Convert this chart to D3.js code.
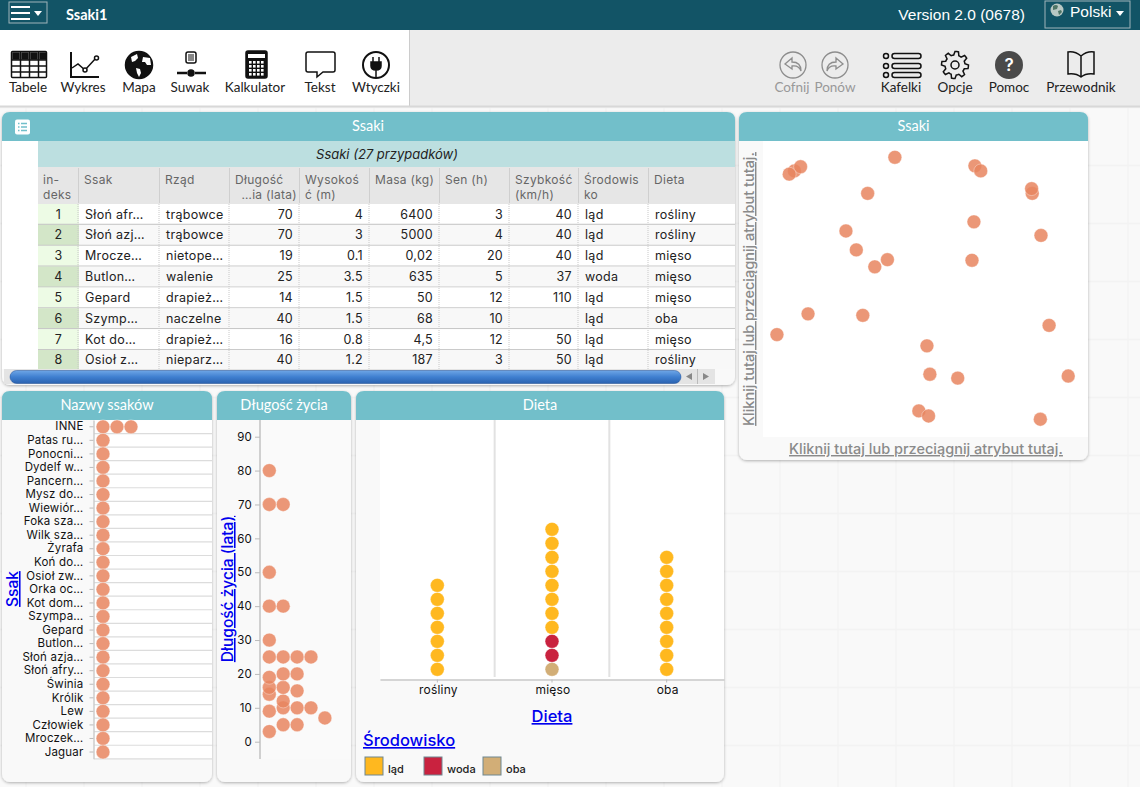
<!DOCTYPE html>
<html lang="pl">
<head>
  <meta charset="UTF-8" />
  <title>Ssaki1</title>
  <style>
    html, body { margin: 0; padding: 0; overflow: hidden; background: #f9f9f9; }
    svg { display: block; }
    text { font-family: Inter, "DejaVu Sans", sans-serif; }
    .lato, .lato text { font-family: Lato, sans-serif; }
    .link { fill: #0000ee; text-decoration: underline; font-weight: 500; }
    .hint { fill: #8a8a8a; text-decoration: underline; font-size: 14.5px; font-weight: 500; }
    .axis text { fill: #111; font-family: Inter, sans-serif; font-weight: 400; letter-spacing: 0.2px; }
    .cell { letter-spacing: 0.3px; }
  </style>
  <script src="https://d3js.org/d3.v7.min.js"></script>
</head>
<body>
  <svg id="page" width="1140" height="787"></svg>
  <script>
    // table
    const columnEdges = [38, 79, 160, 230, 300, 370, 440, 510, 579, 649, 735];
    const columnHeads = [["in-", "deks"], ["Ssak"], ["Rząd"], ["Długość", "…ia (lata)"], ["Wysokoś", "ć (m)"],
      ["Masa (kg)"], ["Sen (h)"], ["Szybkość", "(km/h)"], ["Środowis", "ko"], ["Dieta"]];
    const rightAligned = [3, 4, 5, 6, 7];
    const tableRows = [
      ["1", "Słoń afr…", "trąbowce", "70", "4", "6400", "3", "40", "ląd", "rośliny"],
      ["2", "Słoń azj…", "trąbowce", "70", "3", "5000", "4", "40", "ląd", "rośliny"],
      ["3", "Mrocze…", "nietope…", "19", "0.1", "0,02", "20", "40", "ląd", "mięso"],
      ["4", "Butlon…", "walenie", "25", "3.5", "635", "5", "37", "woda", "mięso"],
      ["5", "Gepard", "drapież…", "14", "1.5", "50", "12", "110", "ląd", "mięso"],
      ["6", "Szymp…", "naczelne", "40", "1.5", "68", "10", "", "ląd", "oba"],
      ["7", "Kot do…", "drapież…", "16", "0.8", "4,5", "12", "50", "ląd", "mięso"],
      ["8", "Osioł z…", "nieparz…", "40", "1.2", "187", "3", "50", "ląd", "rośliny"]
    ];

    // Nazwy ssaków
    const mammalNames = ["INNE", "Patas ru…", "Ponocni…", "Dydelf w…", "Pancern…", "Mysz do…", "Wiewiór…",
      "Foka sza…", "Wilk sza…", "Żyrafa", "Koń do…", "Osioł zw…", "Orka oc…", "Kot dom…", "Szympa…",
      "Gepard", "Butlon…", "Słoń azja…", "Słoń afry…", "Świnia", "Królik", "Lew", "Człowiek", "Mroczek…", "Jaguar"];
    const nameCounts = [3, 1, 1, 1, 1, 1, 1, 1, 1, 1, 1, 1, 1, 1, 1, 1, 1, 1, 1, 1, 1, 1, 1, 1, 1];

    // Długość życia, one list per stacking column
    const lifeTicks = [0, 10, 20, 30, 40, 50, 60, 70, 80, 90];
    const lifeStacks = [
      [3, 9, 14, 16, 19, 25, 30, 40, 50, 70, 80],
      [5, 10, 12, 16, 20, 25, 40, 70],
      [5, 10, 15, 20, 25],
      [10, 25],
      [7]
    ];

    // Dieta
    const dietLabels = ["rośliny", "mięso", "oba"];
    const habitatLabels = ["ląd", "woda", "oba"];
    const habitatColors = ["#ffb81f", "#c9223f", "#d2ae77"];
    const bothCounts = [0, 1, 0];
    const waterCounts = [0, 2, 0];
    const landCounts = [7, 8, 9];

    // Ssaki, empty plot: free scatter in percent of the plot area
    const looseX = [9.7, 11.6, 8.1, 40.7, 65.4, 67.2, 83.1, 82.9, 32.3, 65.1, 85.8, 25.6, 28.8, 38.4, 34.5, 64.5,
      13.9, 30.8, 88.3, 4.3, 50.6, 51.5, 60.1, 94.2, 48.1, 51.1, 85.6];
    const looseY = [89.9, 91.3, 88.8, 94.5, 91.6, 89.9, 82.3, 83.9, 82.3, 72.7, 68.1, 69.6, 63.2, 59.9, 57.5, 59.7,
      41.6, 41.1, 37.7, 34.6, 30.8, 21.2, 19.9, 20.6, 8.8, 7.1, 6.0];

    const dotColor = "#e8855f";
    const svg = d3.select("#page");

    function addText(parent, x, y, str, opts = {}) {
      return parent.append("text").attr("x", x).attr("y", y)
        .attr("text-anchor", opts.anchor || "start")
        .attr("font-size", opts.size || 12)
        .attr("font-weight", opts.weight || 400)
        .attr("fill", opts.fill || "#222")
        .attr("class", opts.cls || null)
        .text(str);
    }

    function drawDots(parent, data, cx, cy, fill, r = 6.9) {
      parent.append("g").selectAll("circle").data(data).join("circle")
        .attr("cx", cx).attr("cy", cy).attr("r", r)
        .attr("fill", fill)
        .attr("fill-opacity", 0.85)
        .attr("stroke", "#fff")
        .attr("stroke-opacity", 0.35)
        .attr("stroke-width", 1);
    }

    // background grid
    const grid = svg.append("g").attr("stroke", "#f3f3f3").attr("stroke-width", 1.5);
    grid.selectAll(".v").data(d3.range(20)).join("line")
      .attr("x1", i => 26 + i * 58).attr("x2", i => 26 + i * 58).attr("y1", 106).attr("y2", 787);
    grid.selectAll(".h").data(d3.range(12)).join("line")
      .attr("x1", 0).attr("x2", 1140).attr("y1", i => 107.5 + i * 58).attr("y2", i => 107.5 + i * 58);

    const defs = svg.append("defs");
    const shadow = defs.append("filter").attr("id", "shadow").attr("x", "-5%").attr("y", "-5%").attr("width", "110%").attr("height", "110%");
    shadow.append("feDropShadow").attr("dx", 0).attr("dy", 1).attr("stdDeviation", 1.5).attr("flood-color", "#000").attr("flood-opacity", 0.3);
    const barGrad = defs.append("linearGradient").attr("id", "bar").attr("x1", 0).attr("x2", 0).attr("y1", 0).attr("y2", 1);
    barGrad.append("stop").attr("offset", 0).attr("stop-color", "#6ea6e6");
    barGrad.append("stop").attr("offset", 0.5).attr("stop-color", "#3f7fd0");
    barGrad.append("stop").attr("offset", 1).attr("stop-color", "#2a62b0");

    // top bar
    svg.append("rect").attr("width", 1140).attr("height", 30).attr("fill", "#125466");
    svg.append("rect").attr("x", 9).attr("y", 2).attr("width", 38).attr("height", 21).attr("fill", "none").attr("stroke", "#9fb4ba");
    [7, 13, 19].forEach(y => svg.append("rect").attr("x", 11).attr("y", y - 1).attr("width", 19).attr("height", 2).attr("fill", "#fff"));
    svg.append("path").attr("d", "M34 11h8l-4 5z").attr("fill", "#fff");
    addText(svg, 66, 20, "Ssaki1", { size: 14.5, weight: 700, fill: "#fff", cls: "lato" });
    addText(svg, 1025, 20, "Version 2.0 (0678)", { anchor: "end", size: 15.5, fill: "#fff" }).style("font-family", "Liberation Sans");
    svg.append("rect").attr("x", 1045).attr("y", 1).attr("width", 85).attr("height", 27).attr("fill", "none").attr("stroke", "#9fb4ba");
    svg.append("circle").attr("cx", 1057).attr("cy", 10).attr("r", 6.5).attr("fill", "#b8c8c4");
    svg.append("path").attr("d", "M1053 6q3 -2 5 0l-1 3-4 1zM1058 11l3 -1 1 2-3 3z").attr("fill", "#4d7566");
    addText(svg, 1070, 17, "Polski", { size: 15.5, fill: "#fff" }).style("font-family", "Liberation Sans");
    svg.append("path").attr("d", "M1116 11h8l-4 5z").attr("fill", "#fff");

    // toolbar
    svg.append("rect").attr("y", 30).attr("width", 1140).attr("height", 76).attr("fill", "#ececec");
    svg.append("rect").attr("y", 30).attr("width", 409).attr("height", 76).attr("fill", "#fff");
    svg.append("line").attr("x1", 409.5).attr("x2", 409.5).attr("y1", 30).attr("y2", 106).attr("stroke", "#ccc");
    svg.append("line").attr("x1", 0).attr("x2", 1140).attr("y1", 106.5).attr("y2", 106.5).attr("stroke", "#d8d8d8").attr("stroke-width", 2);

    const toolLabels = [["Tabele", 28], ["Wykres", 83], ["Mapa", 139], ["Suwak", 190], ["Kalkulator", 255], ["Tekst", 320], ["Wtyczki", 376],
      ["Kafelki", 901], ["Opcje", 955], ["Pomoc", 1009], ["Przewodnik", 1081]];
    toolLabels.forEach(d => addText(svg, d[1], 92, d[0], { anchor: "middle", size: 13.5, fill: "#222", cls: "lato" }));
    addText(svg, 792, 92, "Cofnij", { anchor: "middle", size: 13.5, fill: "#999", cls: "lato" });
    addText(svg, 835, 92, "Ponów", { anchor: "middle", size: 13.5, fill: "#999", cls: "lato" });

    const icons = svg.append("g").attr("fill", "none").attr("stroke", "#111").attr("stroke-width", 1.5);
    // Tabele
    icons.append("rect").attr("x", 11.5).attr("y", 51.5).attr("width", 35).attr("height", 26).attr("rx", 1);
    [60, 66, 72].forEach(y => icons.append("line").attr("x1", 11).attr("x2", 47).attr("y1", y).attr("y2", y));
    [20.5, 29.5, 38.5].forEach(x => icons.append("line").attr("x1", x).attr("x2", x).attr("y1", 52).attr("y2", 78));
    [13, 22, 31, 40].forEach(x => icons.append("rect").attr("x", x).attr("y", 53).attr("width", 6).attr("height", 6).attr("fill", "#111"));
    // Wykres
    icons.append("path").attr("d", "M71 52V77H99").attr("stroke-width", 2);
    icons.append("path").attr("d", "M72 68l6 -4 7 6 11 -12").attr("stroke-width", 1.5);
    icons.append("circle").attr("cx", 85).attr("cy", 70).attr("r", 2).attr("fill", "#fff");
    icons.append("circle").attr("cx", 96.5).attr("cy", 58).attr("r", 2).attr("fill", "#fff");
    // Mapa
    icons.append("circle").attr("cx", 139).attr("cy", 65).attr("r", 13.5).attr("fill", "#111");
    icons.append("path").attr("d", "M131 57l6 -3 1 4-3 3-3 1zM143 57l7 1 1 7-4 0-2 -3-3 0zM136 68l4 1 1 4-2 4-2 -4z").attr("fill", "#fff").attr("stroke", "none");
    // Suwak
    icons.append("rect").attr("x", 186).attr("y", 52).attr("width", 10).attr("height", 11).attr("rx", 2);
    icons.append("path").attr("d", "M189 54v7M191 54v7M193 54v7").attr("stroke-width", 1);
    icons.append("path").attr("d", "M177 73h10M195 73h11").attr("stroke-width", 2.5);
    icons.append("circle").attr("cx", 191).attr("cy", 73).attr("r", 3).attr("fill", "#111");
    // Kalkulator
    icons.append("rect").attr("x", 246).attr("y", 51).attr("width", 21).attr("height", 27).attr("rx", 2).attr("fill", "#111");
    icons.append("rect").attr("x", 248).attr("y", 54).attr("width", 17).attr("height", 4).attr("fill", "#fff").attr("stroke", "none");
    d3.range(4).forEach(r => d3.range(4).forEach(c => icons.append("rect")
      .attr("x", 249 + c * 4).attr("y", 61 + r * 4).attr("width", 2.6).attr("height", 2.6).attr("fill", "#fff").attr("stroke", "none")));
    // Tekst
    icons.append("path").attr("d", "M308 52h25q2 0 2 2v16q0 2 -2 2h-10l-6 5v-5h-9q-2 0 -2 -2v-16q0 -2 2 -2z");
    // Wtyczki
    icons.append("circle").attr("cx", 376).attr("cy", 65).attr("r", 13).attr("stroke-width", 2);
    icons.append("path").attr("d", "M371 62h10v4q0 4 -5 4t-5 -4zM373 57v5M379 57v5M376 70v7").attr("fill", "#111").attr("stroke-width", 1.5);
    // Cofnij, Ponów
    const greyIcons = svg.append("g").attr("fill", "none").attr("stroke", "#8d8d8d").attr("stroke-width", 1.3);
    [793, 835].forEach(x => greyIcons.append("circle").attr("cx", x).attr("cy", 65).attr("r", 13));
    greyIcons.append("path").attr("d", "M792 58l-7 6 7 5v-3q7 -1 9 5q0 -9 -9 -9z");
    greyIcons.append("path").attr("d", "M836 58l7 6 -7 5v-3q-7 -1 -9 5q0 -9 9 -9z");
    // Kafelki
    [56, 66, 75].forEach(y => {
      icons.append("circle").attr("cx", 886).attr("cy", y).attr("r", 2.5);
      icons.append("rect").attr("x", 892).attr("y", y - 2.5).attr("width", 29).attr("height", 5).attr("rx", 2.5);
    });
    // Opcje
    icons.append("circle").attr("cx", 955).attr("cy", 65).attr("r", 4);
    const gearPts = d3.range(48).map(i => {
      const a = i / 48 * 2 * Math.PI, r = (i % 6 < 3) ? 13.5 : 10;
      return [955 + r * Math.sin(a), 65 - r * Math.cos(a)];
    });
    icons.append("path").attr("d", d3.line().curve(d3.curveLinearClosed)(gearPts));
    // Pomoc
    icons.append("circle").attr("cx", 1009).attr("cy", 65).attr("r", 14).attr("fill", "#4a4a4a").attr("stroke", "none");
    addText(svg, 1009, 71, "?", { anchor: "middle", size: 17, weight: 600, fill: "#fff" });
    // Przewodnik
    icons.append("path").attr("d", "M1081 56q-6 -5 -13 -4v22q8 -1 13 3q5 -4 13 -3v-22q-7 -1 -13 4zM1081 56v21");

    function panel(x, y, w, h, title, titleX) {
      const g = svg.append("g");
      g.append("rect").attr("x", x).attr("y", y).attr("width", w).attr("height", h).attr("rx", 8)
        .attr("fill", "#f9f9f9").attr("filter", "url(#shadow)");
      g.append("path").attr("d", `M${x} ${y + 29}V${y + 8}q0 -8 8 -8H${x + w - 8}q8 0 8 8V${y + 29}z`).attr("fill", "#72bfca");
      addText(g, titleX === undefined ? x + w / 2 : titleX, y + 19, title, { anchor: "middle", size: 14.5, fill: "#fff", cls: "lato" });
      return g;
    }

    // case table
    const table = panel(2, 112, 733, 273, "Ssaki", 368);
    table.append("rect").attr("x", 2).attr("y", 141).attr("width", 733).attr("height", 228).attr("fill", "#fff");
    table.append("rect").attr("x", 38).attr("y", 141).attr("width", 697).attr("height", 26).attr("fill", "#bcdfe0");
    table.append("rect").attr("x", 38).attr("y", 167).attr("width", 697).attr("height", 37).attr("fill", "#e6e6e6");
    table.append("rect").attr("x", 15).attr("y", 119.5).attr("width", 15).attr("height", 15).attr("rx", 2).attr("fill", "#fff");
    [123.5, 127, 130.5].forEach(y => table.append("path").attr("d", `M18 ${y}h1.5M21 ${y}h6`).attr("stroke", "#72bfca").attr("stroke-width", 1.5));
    addText(table, 387, 159, "Ssaki (27 przypadków)", { anchor: "middle", size: 13, fill: "#222" }).attr("font-style", "italic");

    columnHeads.forEach((lines, c) => {
      if (c > 0) table.append("line").attr("x1", columnEdges[c] - 0.5).attr("x2", columnEdges[c] - 0.5).attr("y1", 168).attr("y2", 203).attr("stroke", "#cfcfcf");
      lines.forEach((line, i) => {
        const secondRight = c === 3 && i === 1;
        addText(table, secondRight ? columnEdges[c + 1] - 3 : columnEdges[c] + 5, 184 + i * 15, line,
          { anchor: secondRight ? "end" : "start", size: 12, fill: "#666", cls: "cell" });
      });
    });

    const rowTop = d3.scaleLinear().domain([0, 1]).range([204, 224.85]);
    const rowG = table.append("g");
    tableRows.forEach((row, r) => {
      const y0 = rowTop(r);
      const h = Math.min(20.85, 369 - y0);
      rowG.append("rect").attr("x", 79).attr("y", y0).attr("width", 656).attr("height", h).attr("fill", r % 2 ? "#f8f8f8" : "#fff");
      rowG.append("rect").attr("x", 38).attr("y", y0).attr("width", 41).attr("height", h).attr("fill", r % 2 ? "#d3e6c8" : "#edfbe5");
      if (r < 7) rowG.append("line").attr("x1", 38).attr("x2", 735).attr("y1", y0 + 20.5).attr("y2", y0 + 20.5).attr("stroke", "#c8c8c8").attr("stroke-width", 1.3);
      row.forEach((val, c) => {
        const right = rightAligned.includes(c);
        const x = c === 0 ? 58.5 : right ? columnEdges[c + 1] - 7 : columnEdges[c] + 6;
        addText(rowG, x, y0 + 14.5, val, { anchor: c === 0 ? "middle" : right ? "end" : "start", size: 12.5, fill: "#222", cls: "cell" });
      });
    });
    columnEdges.slice(1, -1).forEach(x => rowG.append("line").attr("x1", x - 1).attr("x2", x - 1).attr("y1", 204).attr("y2", 369)
      .attr("stroke", "#c8c8c8").attr("stroke-dasharray", "1 1"));

    table.append("rect").attr("x", 4).attr("y", 369).attr("width", 711).attr("height", 15).attr("fill", "#e4e4e4");
    table.append("rect").attr("x", 10).attr("y", 370.5).attr("width", 671).attr("height", 13).attr("rx", 6.5).attr("fill", "url(#bar)").attr("stroke", "#1f4f96").attr("stroke-width", 0.5);
    table.append("line").attr("x1", 697.5).attr("x2", 697.5).attr("y1", 369).attr("y2", 384).attr("stroke", "#bbb");
    table.append("path").attr("d", "M692 373v7l-6 -3.5zM703 373v7l6 -3.5z").attr("fill", "#888");

    // Nazwy ssaków
    const namesPanel = panel(2, 391, 210, 391, "Nazwy ssaków");
    namesPanel.append("rect").attr("x", 94).attr("y", 420).attr("width", 118).attr("height", 339).attr("fill", "#fff");
    const nameY = d3.scaleBand().domain(mammalNames).range([420, 758.8]);
    const nameX = d3.scaleLinear().domain([0, 1]).range([103, 117]);
    namesPanel.append("g").selectAll("line").data(mammalNames).join("line")
      .attr("x1", 94).attr("x2", 212)
      .attr("y1", d => nameY(d) + nameY.bandwidth()).attr("y2", d => nameY(d) + nameY.bandwidth())
      .attr("stroke", "#dcdcdc").attr("stroke-width", 1.2);
    const nameAxis = namesPanel.append("g").attr("class", "axis").attr("transform", "translate(93.5,0)")
      .call(d3.axisLeft(nameY).tickSize(4).tickSizeOuter(0).tickPadding(6));
    nameAxis.selectAll("text").attr("font-size", 11.5);
    nameAxis.selectAll("line").attr("stroke", "#bbb");
    nameAxis.select(".domain").attr("stroke", "#ccc").attr("stroke-width", 1.5);
    const nameDots = mammalNames.flatMap((n, i) => d3.range(nameCounts[i]).map(k => ({ n, k })));
    drawDots(namesPanel, nameDots, d => nameX(d.k), d => nameY(d.n) + nameY.bandwidth() / 2, dotColor);
    addText(namesPanel, 0, 0, "Ssak", { anchor: "middle", size: 15.5, cls: "link" })
      .attr("transform", "translate(18,589) rotate(-90)");

    // Długość życia
    const lifePanel = panel(217, 391, 134, 391, "Długość życia");
    lifePanel.append("rect").attr("x", 260).attr("y", 420).attr("width", 91).attr("height", 339).attr("fill", "#fafafa");
    const lifeY = d3.scaleLinear().domain([0, 90]).range([741.7, 436.7]);
    const lifeX = d3.scaleLinear().domain([0, 1]).range([269.3, 283.2]);
    const lifeAxis = lifePanel.append("g").attr("class", "axis").attr("transform", "translate(260,0)")
      .call(d3.axisLeft(lifeY).tickValues(lifeTicks).tickSize(5).tickPadding(3));
    lifeAxis.selectAll("text").attr("font-size", 11.5);
    lifeAxis.selectAll("line").attr("stroke", "#bbb");
    lifeAxis.select(".domain").attr("d", "M0 420V759").attr("stroke", "#d0d0d0").attr("stroke-width", 2);
    const lifeDots = lifeStacks.flatMap((vals, k) => vals.map(v => ({ v, k })));
    drawDots(lifePanel, lifeDots, d => lifeX(d.k), d => lifeY(d.v), dotColor);
    addText(lifePanel, 0, 0, "Długość życia (lata)", { anchor: "middle", size: 15.5, cls: "link" })
      .attr("transform", "translate(233,589) rotate(-90)");

    // Dieta
    const dietPanel = panel(356, 391, 368, 391, "Dieta");
    dietPanel.append("rect").attr("x", 380).attr("y", 420).attr("width", 344).attr("height", 259).attr("fill", "#fff");
    const dietX = d3.scaleBand().domain(dietLabels).range([380, 724]);
    const stackY = d3.scaleLinear().domain([0, 1]).range([669.3, 655.3]);
    dietPanel.append("g").selectAll("line").data(dietLabels.slice(1)).join("line")
      .attr("x1", d => dietX(d)).attr("x2", d => dietX(d)).attr("y1", 420).attr("y2", 677)
      .attr("stroke", "#e2e2e2").attr("stroke-width", 2);
    const dietAxis = dietPanel.append("g").attr("class", "axis").attr("transform", "translate(0,679.5)")
      .call(d3.axisBottom(dietX).tickSize(3).tickSizeOuter(0).tickPadding(3));
    dietAxis.selectAll("text").attr("font-size", 12).attr("dx", 1);
    dietAxis.selectAll("line").attr("stroke", "#bbb");
    dietAxis.select(".domain").attr("stroke", "#c8c8c8").attr("stroke-width", 1.5);
    const dietDots = dietLabels.flatMap((cat, i) => {
      const seq = [...Array(bothCounts[i]).fill(2), ...Array(waterCounts[i]).fill(1), ...Array(landCounts[i]).fill(0)];
      return seq.map((h, k) => ({ cat, h, k }));
    });
    drawDots(dietPanel, dietDots, d => dietX(d.cat) + dietX.bandwidth() / 2, d => stackY(d.k), d => habitatColors[d.h]);
    dietPanel.selectAll("circle").attr("fill-opacity", 1).attr("stroke-opacity", 0.3);
    addText(dietPanel, 552, 722, "Dieta", { anchor: "middle", size: 16.5, cls: "link" });
    addText(dietPanel, 363, 746, "Środowisko", { size: 16.5, cls: "link" });
    const legendX = d3.scaleLinear().domain([0, 1]).range([365, 424]);
    const legend = dietPanel.append("g").selectAll("g").data(habitatLabels).join("g")
      .attr("transform", (d, i) => `translate(${legendX(i)},757)`);
    legend.append("rect").attr("width", 18).attr("height", 18).attr("fill", (d, i) => habitatColors[i])
      .attr("stroke", "#6f8791").attr("stroke-width", 1);
    legend.append("text").attr("x", 23).attr("y", 16).attr("font-size", 11).attr("font-weight", 500)
      .attr("fill", "#222").text(d => d);

    // Ssaki, empty scatter
    const emptyPanel = panel(739, 112, 349, 348, "Ssaki");
    emptyPanel.append("rect").attr("x", 763).attr("y", 141).attr("width", 325).attr("height", 296).attr("fill", "#fff");
    const looseXScale = d3.scaleLinear().domain([0, 100]).range([763, 1087]);
    const looseYScale = d3.scaleLinear().domain([0, 100]).range([437, 141]);
    drawDots(emptyPanel, d3.range(looseX.length), i => looseXScale(looseX[i]), i => looseYScale(looseY[i]), dotColor);
    const hintText = "Kliknij tutaj lub przeciągnij atrybut tutaj.";
    addText(emptyPanel, 926, 454, hintText, { anchor: "middle", cls: "hint" });
    addText(emptyPanel, 0, 0, hintText, { anchor: "middle", cls: "hint" })
      .attr("transform", "translate(754,289) rotate(-90)");
  </script>
</body>
</html>
